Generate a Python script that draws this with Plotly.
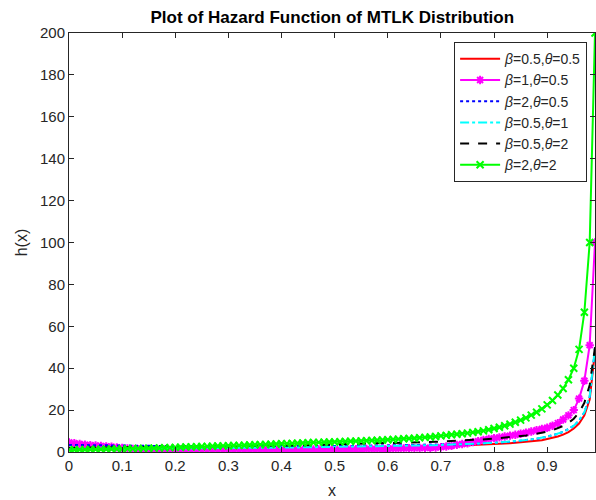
import numpy as np
import plotly.graph_objects as go

# x grid: 0.00, 0.01, ..., 0.99
x = [round(i / 100, 2) for i in range(100)]

h_b05_t05 = [
    1.0, 1.01, 1.02, 1.03, 1.04, 1.05, 1.06, 1.07, 1.08, 1.09,
    1.1, 1.11, 1.12, 1.13, 1.14, 1.15, 1.16, 1.17, 1.18, 1.19,
    1.2, 1.21, 1.22, 1.23, 1.24, 1.25, 1.27, 1.29, 1.31, 1.33,
    1.35, 1.37, 1.39, 1.41, 1.43, 1.45, 1.47, 1.49, 1.51, 1.53,
    1.55, 1.57, 1.59, 1.61, 1.63, 1.66, 1.69, 1.72, 1.75, 1.78,
    1.81, 1.84, 1.87, 1.9, 1.94, 1.98, 2.02, 2.06, 2.1, 2.14,
    2.18, 2.23, 2.28, 2.33, 2.38, 2.44, 2.5, 2.56, 2.62, 2.69,
    2.76, 2.83, 2.91, 2.99, 3.08, 3.17, 3.27, 3.38, 3.49, 3.61,
    3.74, 3.88, 4.03, 4.2, 4.38, 4.58, 4.8, 5.05, 5.33, 5.65,
    6.2, 6.7, 7.4, 8.3, 9.5, 11.2, 13.6, 17.5, 25.0, 48.0,
]

h_b1_t05 = [
    4.6, 4.2, 3.8, 3.5, 3.3, 3.1, 2.9, 2.7, 2.5, 2.2,
    1.9, 1.7, 1.5, 1.35, 1.25, 1.15, 1.1, 1.05, 1.0, 1.0,
    0.95, 0.95, 0.92, 0.92, 0.9, 0.9, 0.9, 0.9, 0.9, 0.9,
    0.9, 0.9, 0.9, 0.92, 0.92, 0.95, 0.95, 0.98, 1.0, 1.0,
    1.02, 1.05, 1.08, 1.1, 1.12, 1.15, 1.18, 1.2, 1.2, 1.2,
    1.2, 1.22, 1.25, 1.28, 1.3, 1.35, 1.4, 1.45, 1.5, 1.55,
    1.6, 1.65, 1.7, 1.75, 1.8, 1.85, 1.9, 1.95, 2.0, 2.1,
    2.3, 2.6, 3.0, 3.4, 3.8, 4.2, 4.7, 5.2, 5.7, 6.2,
    6.6, 7.0, 7.4, 7.8, 8.2, 8.7, 9.2, 9.8, 10.4, 11.0,
    11.6, 12.5, 13.8, 15.5, 17.5, 20.0, 25.5, 34.0, 51.0, 100.0,
]

h_b2_t05 = [
    3.4, 3.35, 3.3, 3.25, 3.2, 3.16, 3.12, 3.08, 3.05, 3.02,
    3.0, 2.98, 2.96, 2.94, 2.92, 2.9, 2.88, 2.86, 2.84, 2.82,
    2.8, 2.79, 2.78, 2.77, 2.76, 2.75, 2.74, 2.73, 2.72, 2.71,
    2.7, 2.7, 2.7, 2.7, 2.7, 2.7, 2.7, 2.71, 2.72, 2.73,
    2.74, 2.75, 2.76, 2.77, 2.78, 2.79, 2.8, 2.81, 2.82, 2.83,
    2.84, 2.86, 2.88, 2.9, 2.92, 2.94, 2.96, 2.98, 3.0, 3.02,
    3.05, 3.08, 3.11, 3.14, 3.17, 3.2, 3.24, 3.28, 3.32, 3.36,
    3.4, 3.45, 3.5, 3.56, 3.63, 3.71, 3.8, 3.9, 4.02, 4.15,
    4.3, 4.46, 4.64, 4.84, 5.06, 5.31, 5.6, 5.93, 6.31, 6.76,
    7.3, 7.9, 8.65, 9.6, 10.85, 12.5, 15.0, 18.9, 26.3, 49.5,
]

h_b05_t1 = [
    1.4, 1.41, 1.42, 1.43, 1.44, 1.45, 1.46, 1.47, 1.48, 1.49,
    1.5, 1.51, 1.52, 1.53, 1.54, 1.56, 1.58, 1.6, 1.62, 1.64,
    1.66, 1.68, 1.7, 1.72, 1.74, 1.76, 1.78, 1.8, 1.82, 1.84,
    1.86, 1.88, 1.9, 1.92, 1.94, 1.96, 1.98, 2.0, 2.03, 2.06,
    2.09, 2.12, 2.15, 2.18, 2.21, 2.24, 2.27, 2.3, 2.33, 2.36,
    2.4, 2.44, 2.48, 2.52, 2.56, 2.6, 2.64, 2.68, 2.72, 2.76,
    2.8, 2.85, 2.9, 2.95, 3.0, 3.05, 3.1, 3.16, 3.22, 3.28,
    3.35, 3.42, 3.5, 3.58, 3.67, 3.77, 3.88, 4.0, 4.13, 4.27,
    4.42, 4.58, 4.76, 4.96, 5.18, 5.43, 5.71, 6.03, 6.4, 6.83,
    7.33, 7.95, 8.7, 9.65, 10.9, 12.6, 15.1, 19.0, 26.5, 50.0,
]

h_b05_t2 = [
    2.0, 2.02, 2.04, 2.06, 2.08, 2.1, 2.12, 2.14, 2.16, 2.18,
    2.2, 2.22, 2.24, 2.26, 2.28, 2.3, 2.32, 2.34, 2.36, 2.38,
    2.4, 2.43, 2.46, 2.49, 2.52, 2.55, 2.58, 2.61, 2.64, 2.67,
    2.7, 2.73, 2.76, 2.8, 2.84, 2.88, 2.92, 2.96, 3.0, 3.04,
    3.08, 3.12, 3.16, 3.2, 3.25, 3.3, 3.35, 3.4, 3.45, 3.5,
    3.55, 3.6, 3.65, 3.7, 3.76, 3.82, 3.88, 3.94, 4.0, 4.07,
    4.14, 4.21, 4.28, 4.36, 4.44, 4.52, 4.6, 4.69, 4.78, 4.87,
    4.97, 5.07, 5.18, 5.29, 5.41, 5.54, 5.68, 5.83, 5.99, 6.16,
    6.35, 6.55, 6.77, 7.01, 7.27, 7.56, 7.88, 8.24, 8.65, 9.12,
    9.7, 10.4, 11.3, 12.4, 13.9, 15.9, 18.8, 23.5, 32.0, 50.0,
]

h_b2_t2 = [
    1.0, 1.05, 1.1, 1.15, 1.2, 1.25, 1.3, 1.35, 1.4, 1.45,
    1.5, 1.55, 1.6, 1.65, 1.7, 1.78, 1.85, 1.92, 2.0, 2.1,
    2.2, 2.28, 2.36, 2.44, 2.52, 2.6, 2.68, 2.76, 2.84, 2.92,
    3.0, 3.08, 3.17, 3.26, 3.35, 3.44, 3.53, 3.62, 3.71, 3.8,
    3.9, 4.0, 4.1, 4.2, 4.3, 4.4, 4.5, 4.6, 4.7, 4.75,
    4.8, 4.9, 5.0, 5.1, 5.2, 5.3, 5.4, 5.5, 5.6, 5.7,
    5.85, 6.0, 6.15, 6.3, 6.45, 6.6, 6.8, 7.0, 7.2, 7.4,
    7.7, 7.95, 8.2, 8.45, 8.7, 9.0, 9.35, 9.7, 10.1, 10.6,
    11.2, 11.8, 12.5, 13.3, 14.2, 15.2, 16.3, 17.6, 19.0, 20.6,
    22.5, 24.6, 27.2, 30.3, 34.5, 40.0, 49.0, 66.7, 100.0, 200.0,
]

x_ticks = [0, 0.1, 0.2, 0.3, 0.4, 0.5, 0.6, 0.7, 0.8, 0.9]
x_tick_text = ["0", "0.1", "0.2", "0.3", "0.4", "0.5", "0.6", "0.7", "0.8", "0.9"]
y_ticks = [0, 20, 40, 60, 80, 100, 120, 140, 160, 180, 200]

series = [
    ("<i>β</i>=0.5,<i>θ</i>=0.5", h_b05_t05, "#FF0000", "solid", None),
    ("<i>β</i>=1,<i>θ</i>=0.5", h_b1_t05, "#FF00FF", "solid", "asterisk-open"),
    ("<i>β</i>=2,<i>θ</i>=0.5", h_b2_t05, "#0000FF", "dot", None),
    ("<i>β</i>=0.5,<i>θ</i>=1", h_b05_t1, "#00FFFF", "dashdot", None),
    ("<i>β</i>=0.5,<i>θ</i>=2", h_b05_t2, "#000000", "dash", None),
    ("<i>β</i>=2,<i>θ</i>=2", h_b2_t2, "#00FF00", "solid", "x-thin-open"),
]

FONT = "Liberation Sans, Arial"

fig = go.Figure()
for name, y, color, dash, symbol in series:
    kw = dict(x=x, y=y, name=name, line=dict(color=color, width=2, dash=dash))
    if symbol:
        kw["mode"] = "lines+markers"
        kw["marker"] = dict(symbol=symbol, size=7, color=color,
                            line=dict(color=color, width=2))
    else:
        kw["mode"] = "lines"
    fig.add_trace(go.Scatter(**kw))

axis_common = dict(
    showline=True, linecolor="#262626", linewidth=1, mirror="ticks",
    ticks="inside", ticklen=5, tickcolor="#262626", tickwidth=1,
    showgrid=False, zeroline=False,
    tickfont=dict(family=FONT, size=15, color="#262626"),
)

fig.update_layout(
    width=596, height=500,
    margin=dict(l=69, r=1, t=33, b=48),
    paper_bgcolor="white", plot_bgcolor="white",
    title=dict(text="<b>Plot of Hazard Function of MTLK Distribution</b>",
               x=0.5575, xanchor="center", y=0.966, yanchor="middle",
               font=dict(family=FONT, size=17, color="#000000")),
    xaxis=dict(range=[0, 0.99], tickvals=x_ticks, ticktext=x_tick_text,
               title=dict(text="x", standoff=11,
                          font=dict(family=FONT, size=16, color="#262626")),
               **axis_common),
    yaxis=dict(range=[0, 200], tickvals=y_ticks,
               title=dict(text="h(x)", standoff=8,
                          font=dict(family=FONT, size=16, color="#262626")),
               **axis_common),
    legend=dict(x=0.985, xanchor="right", y=0.978, yanchor="top",
                bgcolor="white", bordercolor="#262626", borderwidth=1,
                font=dict(family=FONT, size=14, color="#262626"),
                tracegroupgap=0, itemwidth=40),
    showlegend=True,
)

fig.write_html("out.html")
